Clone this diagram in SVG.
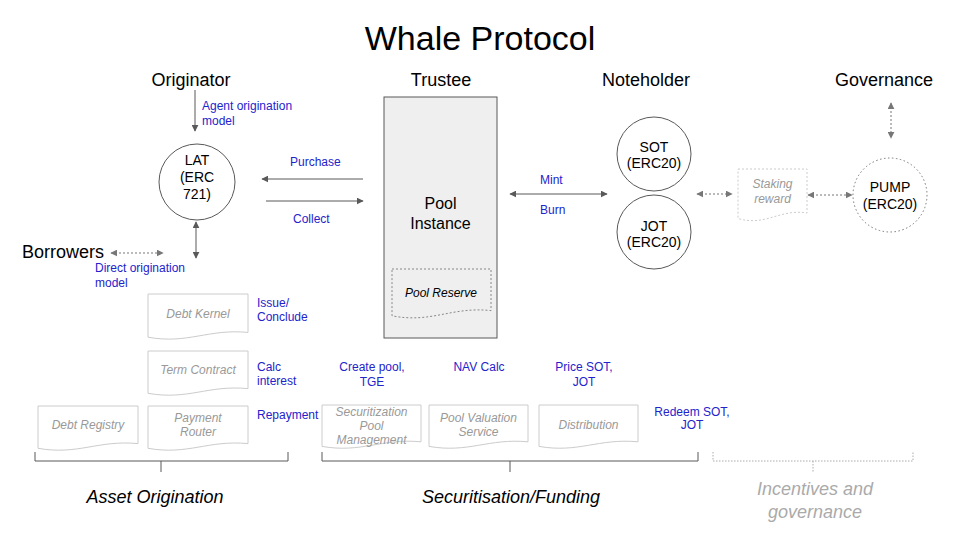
<svg xmlns="http://www.w3.org/2000/svg" width="960" height="540" viewBox="0 0 960 540">
<defs>
<marker id="ah" viewBox="0 0 10 10" refX="9" refY="5" markerWidth="7" markerHeight="7" markerUnits="userSpaceOnUse" orient="auto-start-reverse">
<path d="M0,0 L10,5 L0,10 Z" fill="#595959"/>
</marker>
<marker id="ahd" viewBox="0 0 10 10" refX="9" refY="5" markerWidth="7" markerHeight="7" markerUnits="userSpaceOnUse" orient="auto-start-reverse">
<path d="M0,0 L10,5 L0,10 Z" fill="#777777"/>
</marker>
</defs>
<style>
text{font-family:"Liberation Sans",Arial,sans-serif;}
.title{font-size:34px;fill:#000;text-anchor:middle;}
.hdr{font-size:18px;fill:#000;text-anchor:middle;}
.blue{font-size:12px;fill:#2323cc;}
.bc{text-anchor:middle;}
.node{font-size:14px;fill:#000;text-anchor:middle;}
.doc{fill:#fff;stroke:#cccccc;stroke-width:1;}
.doct{font-size:12px;fill:#999999;font-style:italic;text-anchor:middle;}
.circ{fill:#fff;stroke:#595959;stroke-width:1;}
.arr{stroke:#595959;stroke-width:1;fill:none;}
.darr{stroke:#777777;stroke-width:1;fill:none;stroke-dasharray:2,2;}
.brk{stroke:#595959;stroke-width:1;fill:none;}
.sec{font-size:18px;font-style:italic;fill:#000;text-anchor:middle;}
</style>
<rect width="960" height="540" fill="#fff"/>
<text class="title" x="480" y="50">Whale Protocol</text>
<g id="headers">
<text class="hdr" x="191" y="86">Originator</text>
<text class="hdr" x="441" y="86">Trustee</text>
<text class="hdr" x="646" y="86">Noteholder</text>
<text class="hdr" x="884" y="86">Governance</text>
</g>
<g id="borrowers"><text x="22" y="258" style="font-size:18px;fill:#000">Borrowers</text></g>
<g id="lat">
<circle class="circ" cx="197" cy="182" r="38"/>
<text class="node" x="197" y="165">LAT</text>
<text class="node" x="197" y="182">(ERC</text>
<text class="node" x="197" y="199">721)</text>
</g>
<g id="pool-instance">
<rect x="384" y="97" width="113" height="241" fill="#efefef" stroke="#595959" stroke-width="1"/>
<text x="440.5" y="209" style="font-size:16px;fill:#000;text-anchor:middle">Pool</text>
<text x="440.5" y="229" style="font-size:16px;fill:#000;text-anchor:middle">Instance</text>
</g>
<g id="pool-reserve">
<path d="M392,269 H491 V310.6 C451.4,306.4 431.6,323.6 392,315.8 Z" fill="#efefef" stroke="#888" stroke-width="1" stroke-dasharray="2,2"/>
<text x="441" y="297" style="font-size:12px;font-style:italic;fill:#000;text-anchor:middle">Pool Reserve</text>
</g>
<g id="sot">
<circle class="circ" cx="654" cy="154" r="37"/>
<text class="node" x="654" y="152">SOT</text>
<text class="node" x="654" y="168">(ERC20)</text>
</g>
<g id="jot">
<circle class="circ" cx="654" cy="232" r="37"/>
<text class="node" x="654" y="231">JOT</text>
<text class="node" x="654" y="247">(ERC20)</text>
</g>
<g id="staking-reward">
<path d="M738,169 H807 V213 C779.4,208.6 765.6,226.75 738,218.5 Z" fill="#fff" stroke="#cccccc" stroke-width="1" stroke-dasharray="2,2"/>
<text class="doct" x="772.5" y="188">Staking</text>
<text class="doct" x="772.5" y="203">reward</text>
</g>
<g id="pump">
<circle cx="890" cy="195" r="37" fill="#fff" stroke="#777" stroke-width="1" stroke-dasharray="1.5,2.5"/>
<text class="node" x="890" y="192">PUMP</text>
<text class="node" x="890" y="209">(ERC20)</text>
</g>
<g id="debt-kernel">
<path class="doc" d="M148,294 H248 V332.4 C208,328.6 188,344.4 148,337.2 Z"/>
<text class="doct" x="198" y="318">Debt Kernel</text>
</g>
<g id="term-contract">
<path class="doc" d="M148,351 H248 V388.6 C208,384.8 188,400.4 148,393.3 Z"/>
<text class="doct" x="198" y="374">Term Contract</text>
</g>
<g id="payment-router">
<path class="doc" d="M148,406 H248 V443.6 C208,439.8 188,455.4 148,448.3 Z"/>
<text class="doct" x="198" y="422">Payment</text>
<text class="doct" x="198" y="436">Router</text>
</g>
<g id="debt-registry">
<path class="doc" d="M38,406 H138 V443.6 C98,439.8 78,455.4 38,448.3 Z"/>
<text class="doct" x="88" y="429">Debt Registry</text>
</g>
<g id="securitization-pool-management">
<path class="doc" d="M322,405 H421 V441.8 C381.4,438.1 361.6,453.3 322,446.4 Z"/>
<text class="doct" x="371.5" y="416">Securitization</text>
<text class="doct" x="371.5" y="430">Pool</text>
<text class="doct" x="371.5" y="444">Management</text>
</g>
<g id="pool-valuation-service">
<path class="doc" d="M429,405 H528 V441.8 C488.4,438.1 468.6,453.3 429,446.4 Z"/>
<text class="doct" x="478.5" y="422">Pool Valuation</text>
<text class="doct" x="478.5" y="436">Service</text>
</g>
<g id="distribution">
<path class="doc" d="M539,405 H638 V441.8 C598.4,438.1 578.6,453.3 539,446.4 Z"/>
<text class="doct" x="588.5" y="429">Distribution</text>
</g>
<g id="connectors">
<line class="arr" x1="195" y1="90" x2="195" y2="131" marker-end="url(#ah)"/>
<line class="arr" x1="196" y1="222" x2="196" y2="258" marker-start="url(#ah)" marker-end="url(#ah)"/>
<line class="darr" x1="111" y1="253" x2="163" y2="253" marker-start="url(#ahd)" marker-end="url(#ahd)"/>
<line class="arr" x1="363" y1="179" x2="262" y2="179" marker-end="url(#ah)"/>
<line class="arr" x1="266" y1="201" x2="363" y2="201" marker-end="url(#ah)"/>
<line class="arr" x1="510" y1="194" x2="607" y2="194" marker-start="url(#ah)" marker-end="url(#ah)"/>
<line class="darr" x1="697" y1="194" x2="732" y2="194" marker-start="url(#ahd)" marker-end="url(#ahd)"/>
<line class="darr" x1="808" y1="195" x2="852" y2="195" marker-start="url(#ahd)" marker-end="url(#ahd)"/>
<line class="darr" x1="891" y1="103" x2="891" y2="138" marker-start="url(#ahd)" marker-end="url(#ahd)"/>
</g>
<g id="labels">
<text class="blue" x="202" y="110">Agent origination</text>
<text class="blue" x="202" y="125">model</text>
<text class="blue" x="95" y="272">Direct origination</text>
<text class="blue" x="95" y="287">model</text>
<text class="blue" x="290" y="166">Purchase</text>
<text class="blue" x="293" y="223">Collect</text>
<text class="blue" x="540" y="184">Mint</text>
<text class="blue" x="540" y="214">Burn</text>
<text class="blue" x="257" y="307">Issue/</text>
<text class="blue" x="257" y="321">Conclude</text>
<text class="blue" x="257" y="371">Calc</text>
<text class="blue" x="257" y="385">interest</text>
<text class="blue" x="257" y="419">Repayment</text>
<text class="blue bc" x="372" y="371">Create pool,</text>
<text class="blue bc" x="372" y="386">TGE</text>
<text class="blue bc" x="479" y="371">NAV Calc</text>
<text class="blue bc" x="584" y="371">Price SOT,</text>
<text class="blue bc" x="584" y="386">JOT</text>
<text class="blue bc" x="692" y="416">Redeem SOT,</text>
<text class="blue bc" x="692" y="429">JOT</text>
</g>
<g id="brackets">
<path class="brk" d="M35,452 V461 H288 V452 M161,461 V472"/>
<path class="brk" d="M322,452 V461 H698 V452 M510,461 V472"/>
<path d="M713,452 V461 H913 V452 M813,461 V472" fill="none" stroke="#aaaaaa" stroke-width="1" stroke-dasharray="1.5,1.5"/>
<text class="sec" x="155" y="503">Asset Origination</text>
<text class="sec" x="511" y="503">Securitisation/Funding</text>
<text class="sec" x="815" y="495" style="fill:#aaaaaa">Incentives and</text>
<text class="sec" x="815" y="518" style="fill:#aaaaaa">governance</text>
</g>
</svg>
